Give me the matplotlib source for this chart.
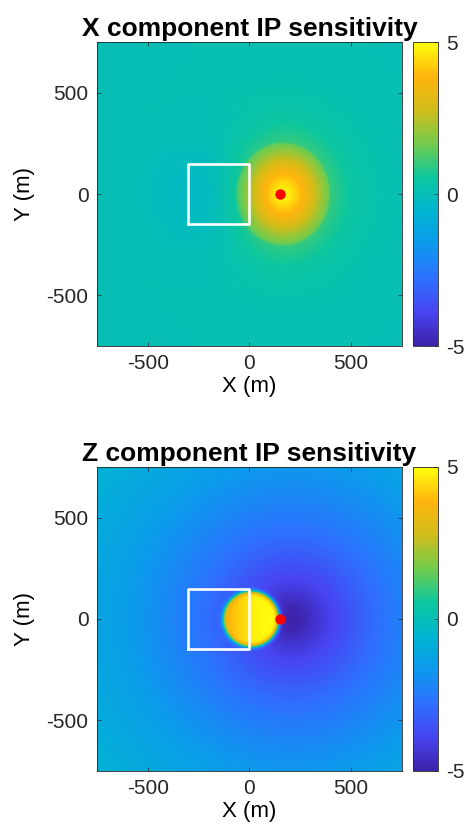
import matplotlib
matplotlib.use('Agg')
import matplotlib.pyplot as plt
import numpy as np
from matplotlib.colors import LinearSegmentedColormap

plt.rcParams['font.family'] = ['Liberation Sans', 'DejaVu Sans']
plt.rcParams['axes.unicode_minus'] = False

# parula-like anchors, sampled from the reference colorbar
parula_rgb = [
    (0.24, 0.13, 0.66), (0.28, 0.27, 0.95), (0.18, 0.44, 1.00),
    (0.05, 0.60, 0.93), (0.00, 0.71, 0.82), (0.05, 0.78, 0.62),
    (0.45, 0.80, 0.30), (0.82, 0.74, 0.10), (1.00, 0.71, 0.05),
    (1.00, 1.00, 0.05),
]
parula = LinearSegmentedColormap.from_list('parula', parula_rgb, N=256)

# Survey geometry (m)
extent_m = 750
source_xy = (150, 0)
box_x = [-300, 0, 0, -300, -300]
box_y = [-150, -150, 150, 150, -150]
clim = (-5, 5)
cticks = [-5, 0, 5]
ticks = [-500, 0, 500]

# X component: values read along distance from the blob centre (y squeezed by 1.1)
x_center = (165, 0)
x_r = [0, 40, 80, 120, 160, 200, 225, 235, 270, 330, 420, 600, 1500]
x_val = [5.0, 4.7, 4.1, 3.5, 2.7, 2.0, 1.6, 1.0, 0.8, 0.5, 0.25, 0.1, 0.0]
# weak negative lobe on the left of the box
xneg_center = (-200, 0)
xneg_r = [0, 150, 300, 500, 1500]
xneg_val = [-0.6, -0.4, -0.15, 0.0, 0.0]

# Z component: negative halo read along distance from (210, 0)
zout_center = (210, 0)
zout_r = [0, 60, 120, 200, 300, 400, 500, 650, 850, 1200]
zout_val = [-5.0, -4.8, -4.4, -3.9, -3.4, -2.9, -2.5, -2.0, -1.4, -0.7]
# positive disk touching the source
zdisk_center = (8, 0)
zdisk_radius = 138
zdisk_x = [-140, -60, 20, 140]
zdisk_val = [3.6, 4.2, 4.8, 5.0]

g = np.linspace(-extent_m, extent_m, 601)
X, Y = np.meshgrid(g, g)

r_x = np.hypot(X - x_center[0], (Y - x_center[1]) / 1.1)
field_x = np.interp(r_x, x_r, x_val)
field_x += np.interp(np.hypot(X - xneg_center[0], Y - xneg_center[1]), xneg_r, xneg_val)

r_zo = np.hypot(X - zout_center[0], Y - zout_center[1])
outer = np.interp(r_zo, zout_r, zout_val)
inner = np.interp(X, zdisk_x, zdisk_val)
r_zd = np.hypot(X - zdisk_center[0], Y - zdisk_center[1])
w = 1.0 / (1.0 + np.exp((r_zd - zdisk_radius) / 6.0))
field_z = outer + (inner - outer) * w

fig = plt.figure(figsize=(4.66, 8.36), dpi=100)

panels = [
    (field_x, 'X component IP sensitivity', 0.5861),
    (field_z, 'Z component IP sensitivity', 0.0778),
]
for field, title, bottom in panels:
    ax = fig.add_axes([0.208, bottom, 0.6545, 0.3636])
    im = ax.imshow(field, extent=[-extent_m, extent_m, -extent_m, extent_m],
                   origin='lower', cmap=parula, vmin=clim[0], vmax=clim[1],
                   aspect='auto', interpolation='bilinear')
    ax.plot(box_x, box_y, color='white', lw=1.9)
    ax.plot(source_xy[0], source_xy[1], 'o', color='red', ms=6.5)
    ax.set_xlim(-extent_m, extent_m)
    ax.set_ylim(-extent_m, extent_m)
    ax.set_xticks(ticks)
    ax.set_yticks(ticks)
    ax.tick_params(direction='in', length=3, width=0.5, labelsize=15, pad=6,
                   top=True, right=True, colors='#262626')
    for spine in ax.spines.values():
        spine.set_linewidth(0.6)
        spine.set_color('#262626')
    ax.set_xlabel('X (m)', fontsize=16, labelpad=2)
    ax.set_ylabel('Y (m)', fontsize=16, labelpad=8)
    ax.set_title(title, fontsize=19, fontweight='bold', pad=4)

    cax = fig.add_axes([0.886, bottom, 0.0536, 0.3636])
    cb = fig.colorbar(im, cax=cax, ticks=cticks)
    cb.ax.tick_params(direction='in', length=3, width=0.5, labelsize=15, pad=6,
                      colors='#262626')
    cb.outline.set_linewidth(0.6)
    cb.outline.set_edgecolor('#262626')
    cb.ax.set_yticklabels([str(t) for t in cticks])

fig.savefig('out.png', dpi=100)
